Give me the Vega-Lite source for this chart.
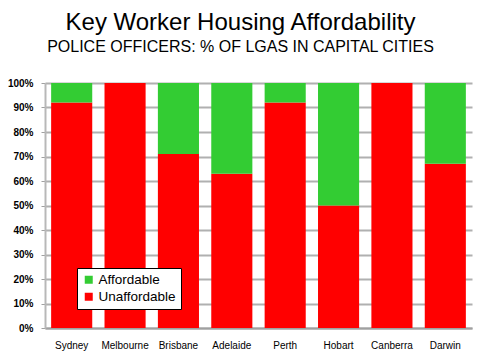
{
  "$schema": "https://vega.github.io/schema/vega-lite/v6.json",
  "width": 427,
  "height": 245,
  "autosize": "none",
  "padding": {"left": 45, "top": 83, "right": 8, "bottom": 32},
  "background": "white",
  "title": {
    "text": "Key Worker Housing Affordability",
    "subtitle": "POLICE OFFICERS: % OF LGAS IN CAPITAL CITIES",
    "anchor": "middle",
    "dx": -18,
    "offset": 23,
    "font": "Liberation Sans",
    "fontSize": 24,
    "fontWeight": "normal",
    "color": "black",
    "subtitleFont": "Liberation Sans",
    "subtitleFontSize": 16,
    "subtitleColor": "black",
    "subtitlePadding": 4
  },
  "data": {
    "values": [
      {"city": "Sydney", "status": "Unaffordable", "pct": 92},
      {"city": "Sydney", "status": "Affordable", "pct": 8},
      {"city": "Melbourne", "status": "Unaffordable", "pct": 100},
      {"city": "Melbourne", "status": "Affordable", "pct": 0},
      {"city": "Brisbane", "status": "Unaffordable", "pct": 71},
      {"city": "Brisbane", "status": "Affordable", "pct": 29},
      {"city": "Adelaide", "status": "Unaffordable", "pct": 63},
      {"city": "Adelaide", "status": "Affordable", "pct": 37},
      {"city": "Perth", "status": "Unaffordable", "pct": 92},
      {"city": "Perth", "status": "Affordable", "pct": 8},
      {"city": "Hobart", "status": "Unaffordable", "pct": 50},
      {"city": "Hobart", "status": "Affordable", "pct": 50},
      {"city": "Canberra", "status": "Unaffordable", "pct": 100},
      {"city": "Canberra", "status": "Affordable", "pct": 0},
      {"city": "Darwin", "status": "Unaffordable", "pct": 67},
      {"city": "Darwin", "status": "Affordable", "pct": 33}
    ]
  },
  "mark": {"type": "bar"},
  "encoding": {
    "x": {
      "field": "city",
      "type": "nominal",
      "sort": null,
      "scale": {"paddingInner": 0.23, "paddingOuter": 0.115},
      "axis": {
        "title": null,
        "labelAngle": 0,
        "labelFont": "Liberation Sans",
        "labelFontSize": 10,
        "labelColor": "black",
        "labelPadding": 12,
        "ticks": false,
        "domainColor": "#a0a0a0",
        "domainWidth": 2
      }
    },
    "y": {
      "field": "pct",
      "type": "quantitative",
      "stack": "zero",
      "scale": {"domain": [0, 100]},
      "axis": {
        "title": null,
        "values": [0, 10, 20, 30, 40, 50, 60, 70, 80, 90, 100],
        "labelExpr": "datum.value + '%'",
        "labelFont": "Liberation Sans",
        "labelFontSize": 10,
        "labelFontWeight": "bold",
        "labelColor": "black",
        "labelPadding": 8,
        "tickSize": 4,
        "tickColor": "#a0a0a0",
        "domainColor": "#b8b8b8",
        "domainWidth": 2,
        "grid": true,
        "gridColor": "#b0b0b0",
        "gridWidth": 2
      }
    },
    "color": {
      "field": "status",
      "type": "nominal",
      "scale": {"domain": ["Affordable", "Unaffordable"], "range": ["#33CC33", "#FF0000"]},
      "legend": {
        "title": null,
        "orient": "none",
        "legendX": 32,
        "legendY": 185,
        "fillColor": "white",
        "strokeColor": "black",
        "padding": 5,
        "symbolType": "square",
        "symbolSize": 64,
        "symbolStrokeWidth": 0,
        "labelFont": "Liberation Sans",
        "labelFontSize": 13.5,
        "labelColor": "black",
        "rowPadding": 2,
        "labelOffset": 3
      }
    },
    "order": {"field": "status", "sort": "descending"}
  },
  "config": {"view": {"stroke": null}}
}
